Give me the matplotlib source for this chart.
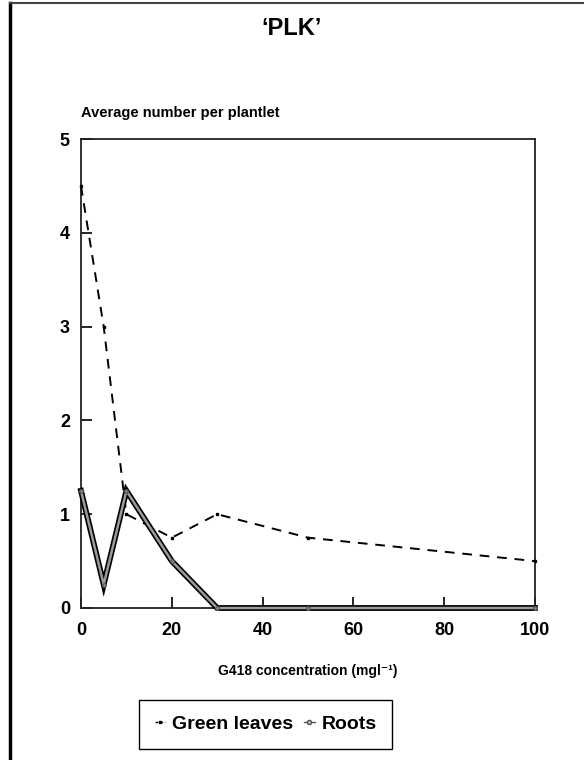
import matplotlib.pyplot as plt
from matplotlib.lines import Line2D

plt.rcParams['font.family'] = ['Liberation Sans', 'DejaVu Sans']
plt.rcParams['font.weight'] = 'bold'

# Data
conc = [0, 5, 10, 20, 30, 50, 100]
green_leaves = [4.5, 3.0, 1.0, 0.75, 1.0, 0.75, 0.5]
roots = [1.25, 0.25, 1.25, 0.5, 0.0, 0.0, 0.0]

x_ticks = [0, 20, 40, 60, 80, 100]
y_ticks = [0, 1, 2, 3, 4, 5]

fig = plt.figure(figsize=(5.84, 7.6), dpi=100)
ax = fig.add_axes([0.1387, 0.2, 0.916 - 0.1387, 0.817 - 0.2])

# Green leaves: dashed with small dots
gl, = ax.plot(conc, green_leaves, color='black', lw=1.4, dashes=(5, 4),
              marker='s', ms=2, mfc='black', mec='black', clip_on=False, zorder=3)

# Roots: thick double line (black outline, grey core)
ax.plot(conc, roots, color='black', lw=4.2, solid_joinstyle='miter',
        clip_on=False, zorder=4)
ax.plot(conc, roots, color='#9a9a9a', lw=1.8, solid_joinstyle='miter',
        marker='o', ms=2.5, mfc='#9a9a9a', mec='#555555',
        clip_on=False, zorder=5)

ax.set_xlim(0, 100)
ax.set_ylim(0, 5)
ax.set_xticks(x_ticks)
ax.set_yticks(y_ticks)
ax.tick_params(direction='in', length=8, width=1.2, labelsize=13, pad=10)
ax.tick_params(axis='y', pad=8)
for lab in ax.get_xticklabels() + ax.get_yticklabels():
    lab.set_fontweight('bold')

for s in ax.spines.values():
    s.set_linewidth(1.3)
    s.set_color('#222222')

ax.set_xlabel('G418 concentration (mgl\u207b\u00b9)', fontsize=10, fontweight='bold',
              labelpad=18)
fig.text(0.138, 0.851, 'Average number per plantlet', fontsize=10.5,
         fontweight='bold', ha='left', va='center')
fig.text(0.5, 0.962, "\u2018PLK\u2019", fontsize=17, fontweight='bold',
         ha='center', va='center')

# legend proxies (small handles like the original)
h_gl = Line2D([], [], color='black', lw=1, dashes=(2, 1.5), marker='s', ms=2)
h_rt = Line2D([], [], color='#555555', lw=1, marker='o', ms=3,
              mfc='#bbbbbb', mec='#555555')
leg = fig.legend([h_gl, h_rt], ['Green leaves', 'Roots'],
                 loc='center', bbox_to_anchor=(0.455, 0.047), ncol=2,
                 fancybox=False, edgecolor='black', framealpha=1,
                 prop={'size': 14, 'weight': 'bold'},
                 handlelength=0.55, handletextpad=0.35, columnspacing=0.55,
                 borderpad=0.8)
leg.get_frame().set_linewidth(1.0)

# outer frame of the panel
fig.add_artist(Line2D([0.017, 0.017], [0, 0.996], transform=fig.transFigure,
                      color='black', lw=2.5))
fig.add_artist(Line2D([0.017, 1.0], [0.996, 0.996], transform=fig.transFigure,
                      color='#444444', lw=1.5))

fig.savefig('out.png', dpi=100)
